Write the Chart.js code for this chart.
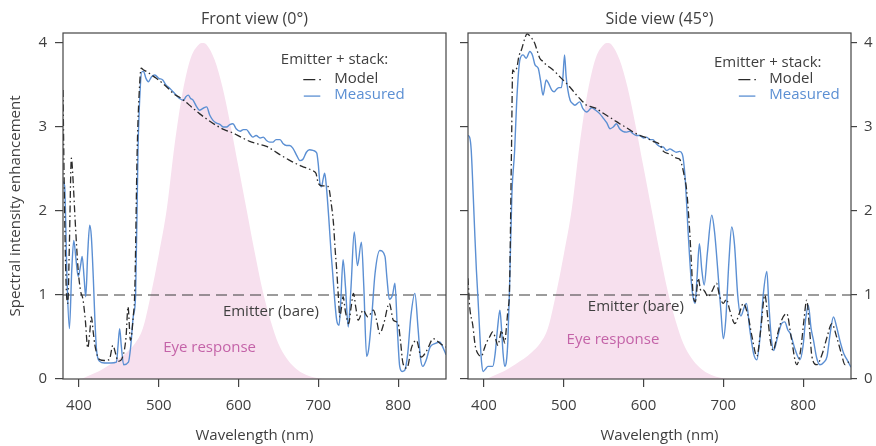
<!DOCTYPE html>
<html>
<head>
<meta charset="utf-8">
<script src="https://cdn.jsdelivr.net/npm/chart.js@4.4.1/dist/chart.umd.min.js"></script>
<style>
  html, body { margin: 0; padding: 0; background: #fff; }
  #wrap { position: relative; width: 876px; height: 446px; }
  canvas { position: absolute; top: 0; }
  #frontChart { left: 0; }
  #sideChart { left: 452px; }
</style>
</head>
<body>
<div id="wrap">
  <canvas id="frontChart" width="452" height="446"></canvas>
  <canvas id="sideChart" width="424" height="446"></canvas>
</div>
<script>
// ---- data ----
var xTicks = [400, 500, 600, 700, 800];
var yTicks = [0, 1, 2, 3, 4];

// eye response (photopic, scaled to 4)
var eyeNm = [400, 405, 410, 420, 430, 440, 450, 460, 470, 480, 490, 500, 510, 520, 530, 540, 550, 555,
  560, 570, 580, 590, 600, 610, 620, 630, 640, 650, 660, 670, 680, 690, 700, 710];
var eyeResponse = [0, 0.01, 0.03, 0.07, 0.12, 0.18, 0.24, 0.32, 0.42, 0.6, 1.0, 1.48, 2.02, 2.8, 3.42, 3.82, 3.98, 4.0,
  3.98, 3.8, 3.47, 3.02, 2.52, 2.02, 1.52, 1.06, 0.7, 0.42, 0.25, 0.14, 0.07, 0.03, 0.01, 0];

// front view (0 deg)
var frontMeasuredNm = [380, 382, 385, 388, 391, 393.5, 396, 399, 402, 404, 406.5, 408.5, 411, 413.5, 415.5, 418, 420, 422,
  426, 432, 440, 447, 449, 451, 453, 456, 462, 465, 468, 471, 474, 477, 479, 481, 484, 487, 491, 495, 500, 505, 509,
  514, 518, 522, 526, 531, 534, 537, 540, 543, 547, 551, 555, 560, 564, 568, 572, 577, 581, 585, 589, 593, 597, 602,
  606, 610, 614, 618, 622, 627, 631, 635, 639, 643, 647, 652, 656, 660, 664, 668, 673, 677, 681, 685, 689, 694, 698,
  700, 702, 704, 706, 708, 710, 713, 716, 718, 720, 723, 726, 728, 731, 734, 737.5, 741, 745, 749, 754, 757, 760.5,
  763, 767, 771, 777, 783.5, 786, 789, 793, 796, 799, 802, 805, 808, 812, 816, 821, 825, 828, 831, 835, 840, 846,
  852, 856, 860];
var frontMeasured = [2.35, 2.3, 1.2, 0.6, 1.3, 1.65, 1.45, 1.22, 1.35, 1.46, 1.2, 0.98, 1.5, 1.83, 1.7, 1.2, 0.7, 0.35,
  0.21, 0.19, 0.19, 0.2, 0.4, 0.6, 0.4, 0.17, 0.2, 0.4, 0.74, 1.0, 2.73, 3.5, 3.66, 3.66, 3.58, 3.54, 3.6, 3.62, 3.58,
  3.56, 3.5, 3.46, 3.42, 3.38, 3.34, 3.32, 3.36, 3.38, 3.34, 3.32, 3.25, 3.2, 3.22, 3.24, 3.14, 3.08, 3.05, 3.03, 3.0,
  3.0, 3.03, 3.04, 2.98, 2.95, 2.97, 2.97, 2.92, 2.88, 2.9, 2.87, 2.88, 2.84, 2.82, 2.82, 2.85, 2.85, 2.8, 2.78, 2.78,
  2.75, 2.66, 2.6, 2.62, 2.7, 2.73, 2.72, 2.69, 2.55, 2.33, 2.29, 2.38, 2.45, 2.3, 1.93, 1.5, 1.26, 1.0, 0.7, 0.64,
  0.9, 1.42, 1.1, 0.62, 1.1, 1.75, 1.35, 1.63, 1.1, 0.27, 0.35, 0.75, 1.25, 1.53, 1.46, 1.2, 0.95, 1.0, 1.14, 0.6,
  0.15, 0.09, 0.1, 0.3, 0.75, 1.02, 0.6, 0.25, 0.15, 0.22, 0.38, 0.42, 0.44, 0.38, 0.29];
var frontModelNm = [380, 382, 384, 386, 388, 390.5, 393, 395, 399, 402, 405, 408, 411, 413.5, 415.5, 418, 420, 426, 432,
  438, 442.5, 446, 449, 455, 459, 461.5, 464.5, 468, 470, 473, 476, 478, 481, 485, 491, 497, 505, 512, 518, 525, 531,
  541, 551, 561, 572, 582, 593, 603, 614, 624, 635, 644, 652, 663, 673, 683, 693, 697, 700, 705, 710, 713, 716, 719,
  721, 723, 725, 727, 729, 731, 734, 738, 741, 744, 747, 750, 756, 762, 769, 773, 777, 782, 789, 794, 800, 803, 806,
  811, 817, 823, 829, 836, 844, 853, 860];
var frontModel = [3.44, 2.0, 1.1, 0.9, 1.6, 2.63, 2.3, 1.93, 1.3, 1.05, 0.95, 0.7, 0.37, 0.55, 0.74, 0.55, 0.4, 0.23,
  0.22, 0.23, 0.4, 0.3, 0.21, 0.27, 0.5, 0.86, 0.46, 0.74, 1.06, 2.73, 3.5, 3.7, 3.68, 3.66, 3.62, 3.58, 3.52, 3.46,
  3.4, 3.36, 3.32, 3.24, 3.16, 3.09, 3.02, 2.97, 2.93, 2.88, 2.83, 2.8, 2.77, 2.72, 2.67, 2.61, 2.56, 2.52, 2.48, 2.45,
  2.33, 2.3, 2.3, 2.28, 2.1, 1.85, 1.55, 1.3, 1.0, 0.74, 0.85, 0.98, 0.8, 0.66, 0.85, 1.02, 0.85, 0.7, 0.82, 0.74,
  0.82, 0.7, 0.54, 0.66, 0.9, 0.7, 0.66, 0.45, 0.19, 0.13, 0.38, 0.46, 0.26, 0.34, 0.48, 0.42, 0.38];

// side view (45 deg)
var sideMeasuredNm = [380, 382, 384, 386.5, 388.5, 390.5, 392.5, 395, 397, 399, 402, 405, 411, 414, 417, 420, 422, 424,
  426, 428, 430, 432, 435, 438.5, 441, 445, 449, 453, 457.5, 461, 464, 468, 471, 474, 478, 481, 485, 488, 491, 494,
  497, 499, 501, 503, 505, 508, 511, 514, 520, 524, 529, 535, 540, 545, 550, 554, 558, 562, 566, 570, 574, 579, 583,
  587, 591, 595, 600, 604, 608, 612, 616, 620, 625, 629, 633, 637, 641, 645, 648.5, 652, 656, 660, 662, 664.5, 667,
  670, 673, 676, 680, 685.5, 689, 693, 697, 700, 703, 707, 710.5, 714, 718, 722, 726, 729, 733, 738, 742, 746, 750,
  754.5, 757, 760, 763, 768, 773, 777, 781, 784, 790, 796, 800, 803, 806.5, 810, 813, 817, 821, 826, 830, 834, 838,
  842, 846, 851, 855, 860];
var sideMeasured = [2.9, 2.88, 2.73, 2.2, 1.73, 1.3, 0.96, 0.5, 0.2, 0.09, 0.12, 0.15, 0.15, 0.3, 0.6, 0.82, 0.6, 0.3,
  0.15, 0.2, 0.46, 1.06, 2.2, 2.73, 3.3, 3.8, 3.86, 3.82, 3.9, 3.85, 3.74, 3.7, 3.55, 3.38, 3.56, 3.52, 3.44, 3.42,
  3.45, 3.47, 3.47, 3.6, 3.86, 3.6, 3.45, 3.32, 3.28, 3.26, 3.3, 3.22, 3.18, 3.23, 3.2, 3.16, 3.1, 3.05, 2.98, 3.0,
  3.04, 2.98, 2.95, 2.94, 2.95, 2.92, 2.9, 2.9, 2.87, 2.88, 2.85, 2.85, 2.8, 2.77, 2.76, 2.72, 2.74, 2.72, 2.7, 2.71,
  2.68, 2.41, 1.73, 1.14, 0.98, 0.9, 1.2, 1.61, 1.3, 1.12, 1.5, 1.95, 1.75, 1.3, 0.8, 0.48, 0.7, 1.4, 1.81, 1.6, 1.0,
  0.75, 0.85, 0.9, 0.6, 0.3, 0.23, 0.5, 1.0, 1.28, 0.9, 0.5, 0.34, 0.5, 0.66, 0.68, 0.58, 0.54, 0.35, 0.23, 0.4, 0.7,
  0.88, 0.6, 0.46, 0.25, 0.17, 0.2, 0.27, 0.55, 0.74, 0.62, 0.46, 0.3, 0.23, 0.14];
var sideModelNm = [380, 382, 386, 389, 392.5, 397, 400, 403, 407, 411, 414, 417.5, 420, 422, 424, 426, 428, 430, 432,
  434.5, 436, 438, 441, 444, 447, 451, 454, 458, 463.5, 467, 470, 474, 478, 484, 491, 497, 503.5, 510, 516, 522,
  528.5, 535, 541, 547, 553.5, 562, 570, 579, 587, 595, 604, 612, 620.5, 625, 633, 641.5, 645, 648, 651, 654, 658,
  660, 662, 665, 668.5, 672, 675, 681, 686, 691.5, 695, 700, 704, 708, 714.5, 720, 725, 731, 736, 742, 747, 752,
  756, 759, 762.5, 767, 773, 779.5, 785, 792, 797, 801, 804.5, 808, 811, 817, 824, 830, 836, 842, 848, 852.5, 857, 860];
var sideModel = [1.2, 0.87, 0.64, 0.4, 0.3, 0.27, 0.35, 0.43, 0.5, 0.56, 0.5, 0.4, 0.5, 0.58, 0.5, 0.43, 0.6, 0.82,
  1.06, 2.73, 3.68, 3.66, 3.7, 3.85, 3.92, 4.05, 4.11, 4.08, 4.0, 3.9, 3.82, 3.78, 3.74, 3.7, 3.64, 3.58, 3.52, 3.45,
  3.38, 3.32, 3.26, 3.24, 3.22, 3.18, 3.14, 3.09, 3.04, 2.99, 2.94, 2.9, 2.87, 2.83, 2.79, 2.71, 2.68, 2.63, 2.62,
  2.55, 2.42, 2.25, 1.73, 1.38, 1.02, 0.92, 1.2, 1.05, 1.06, 0.98, 1.05, 1.14, 1.0, 0.9, 0.95, 0.82, 0.66, 0.78, 0.9,
  0.75, 0.5, 0.27, 0.6, 1.0, 0.7, 0.45, 0.34, 0.5, 0.7, 0.78, 0.5, 0.17, 0.35, 0.7, 0.94, 0.6, 0.27, 0.17, 0.3, 0.5,
  0.66, 0.5, 0.3, 0.17, 0.2, 0.2];

var bareLevel = 1;

// ---- styling ----
var FONT = '"Open Sans", "Noto Sans", sans-serif';
var TEXT = '#3f3f3f';
var AXIS = '#444444';
var BLUE = '#5b8fd3';
var MODEL = '#2a2a2a';
var PINK = '#f7e0ee';
var PINK_TEXT = '#c463a8';

function pts(xs, ys) {
  return xs.map(function (x, i) { return { x: x, y: ys[i] }; });
}

function datasets(measNm, meas, modNm, mod) {
  return [
    { label: 'Model', data: pts(modNm, mod), borderColor: MODEL, borderWidth: 1.3,
      borderDash: [7, 3, 1.5, 3], pointRadius: 0, cubicInterpolationMode: 'monotone', order: 0 },
    { label: 'Measured', data: pts(measNm, meas), borderColor: BLUE, borderWidth: 1.4,
      pointRadius: 0, cubicInterpolationMode: 'monotone', order: 1 },
    { label: 'Emitter (bare)', data: pts([380, 860], [bareLevel, bareLevel]), borderColor: '#3a3a3a',
      borderWidth: 1.2, borderDash: [11, 6], pointRadius: 0, order: 2 },
    { label: 'Eye response', data: pts(eyeNm, eyeResponse), borderWidth: 0, borderColor: PINK,
      backgroundColor: PINK, fill: 'origin', pointRadius: 0, cubicInterpolationMode: 'monotone', order: 3 }
  ];
}

function setTicks(list) {
  return function (scale) { scale.ticks = list.map(function (v) { return { value: v }; }); };
}

// panel decorations: frame, title, legend text, annotations
var decor = {
  id: 'decor',
  afterDraw: function (chart, args, o) {
    var ctx = chart.ctx, a = chart.chartArea;
    var xs = chart.scales.x, ys = chart.scales.y;
    ctx.save();
    ctx.strokeStyle = AXIS;
    ctx.lineWidth = 1.2;
    ctx.strokeRect(a.left, a.top, a.right - a.left, a.bottom - a.top);

    ctx.fillStyle = TEXT;
    ctx.font = '16px ' + FONT;
    ctx.textAlign = 'center';
    ctx.textBaseline = 'alphabetic';
    ctx.fillText(o.title, (a.left + a.right) / 2, 23.5);

    ctx.font = '15px ' + FONT;
    ctx.textAlign = 'left';
    // legend block
    var hx = xs.getPixelForValue(o.header[0]), hy = ys.getPixelForValue(o.header[1]);
    ctx.fillText('Emitter + stack:', hx, hy);
    var lx = xs.getPixelForValue(o.legendX);
    var my = ys.getPixelForValue(o.legendY[0]), uy = ys.getPixelForValue(o.legendY[1]);
    ctx.fillText('Model', lx, my);
    ctx.fillStyle = BLUE;
    ctx.fillText('Measured', lx, uy);

    ctx.lineWidth = 1.3;
    ctx.strokeStyle = MODEL;
    ctx.beginPath();
    ctx.moveTo(lx - 31, my - 3.5); ctx.lineTo(lx - 19, my - 3.5);
    ctx.moveTo(lx - 15, my - 3.5); ctx.lineTo(lx - 13.5, my - 3.5);
    ctx.stroke();
    ctx.strokeStyle = BLUE;
    ctx.beginPath();
    ctx.moveTo(lx - 30.5, uy - 3); ctx.lineTo(lx - 14, uy - 3);
    ctx.stroke();

    ctx.fillStyle = TEXT;
    ctx.fillText('Emitter (bare)', xs.getPixelForValue(o.bare[0]), ys.getPixelForValue(o.bare[1]));
    ctx.fillStyle = PINK_TEXT;
    ctx.fillText('Eye response', xs.getPixelForValue(o.eye[0]), ys.getPixelForValue(o.eye[1]));
    ctx.restore();
  }
};

function xScale() {
  return {
    type: 'linear', min: 380, max: 860,
    afterBuildTicks: setTicks(xTicks),
    afterFit: function (s) { s.height = 67; },
    ticks: { color: TEXT, font: { family: FONT, size: 15 }, padding: 10, maxRotation: 0 },
    grid: { drawOnChartArea: false, tickLength: 8, color: AXIS, lineWidth: 1.2 },
    border: { display: false },
    title: { display: true, text: 'Wavelength (nm)', color: TEXT, font: { family: FONT, size: 15 },
      padding: { top: 0, bottom: 1 } }
  };
}

new Chart(document.getElementById('frontChart'), {
  type: 'line',
  data: { datasets: datasets(frontMeasuredNm, frontMeasured, frontModelNm, frontModel) },
  options: {
    responsive: false, animation: false,
    layout: { padding: { top: 33, right: 6, bottom: 0, left: 0 } },
    plugins: {
      legend: { display: false }, tooltip: { enabled: false },
      decor: { title: 'Front view (0°)', header: [653, 3.75], legendX: 720, legendY: [3.524, 3.333],
        bare: [580.4, 0.75], eye: [505.5, 0.325] }
    },
    scales: {
      x: xScale(),
      y: {
        type: 'linear', min: 0, max: 4.12, position: 'left',
        afterBuildTicks: setTicks(yTicks),
        afterFit: function (s) { s.width = 63; },
        ticks: { color: TEXT, font: { family: FONT, size: 15 }, padding: 8 },
        grid: { drawOnChartArea: false, tickLength: 8, color: AXIS, lineWidth: 1.2 },
        border: { display: false },
        title: { display: true, text: 'Spectral intensity enhancement', color: TEXT,
          font: { family: FONT, size: 15 }, padding: { top: 7, bottom: 0 } }
      }
    }
  },
  plugins: [decor]
});

new Chart(document.getElementById('sideChart'), {
  type: 'line',
  data: { datasets: datasets(sideMeasuredNm, sideMeasured, sideModelNm, sideModel) },
  options: {
    responsive: false, animation: false,
    layout: { padding: { top: 33, right: 0, bottom: 0, left: 0 } },
    plugins: {
      legend: { display: false }, tooltip: { enabled: false },
      decor: { title: 'Side view (45°)', header: [688.3, 3.72], legendX: 757.7, legendY: [3.524, 3.333],
        bare: [530.2, 0.81], eye: [503.5, 0.413] }
    },
    scales: {
      x: xScale(),
      y: {
        type: 'linear', min: 0, max: 4.12, position: 'left',
        afterBuildTicks: setTicks(yTicks),
        afterFit: function (s) { s.width = 16; },
        ticks: { display: false },
        grid: { drawOnChartArea: false, tickLength: 8, color: AXIS, lineWidth: 1.2 },
        border: { display: false }
      },
      y2: {
        type: 'linear', min: 0, max: 4.12, position: 'right',
        afterBuildTicks: setTicks(yTicks),
        afterFit: function (s) { s.width = 25; },
        ticks: { color: TEXT, font: { family: FONT, size: 15 }, padding: 7 },
        grid: { drawOnChartArea: false, tickLength: 6, color: AXIS, lineWidth: 1.2 },
        border: { display: false }
      }
    }
  },
  plugins: [decor]
});
</script>
</body>
</html>
